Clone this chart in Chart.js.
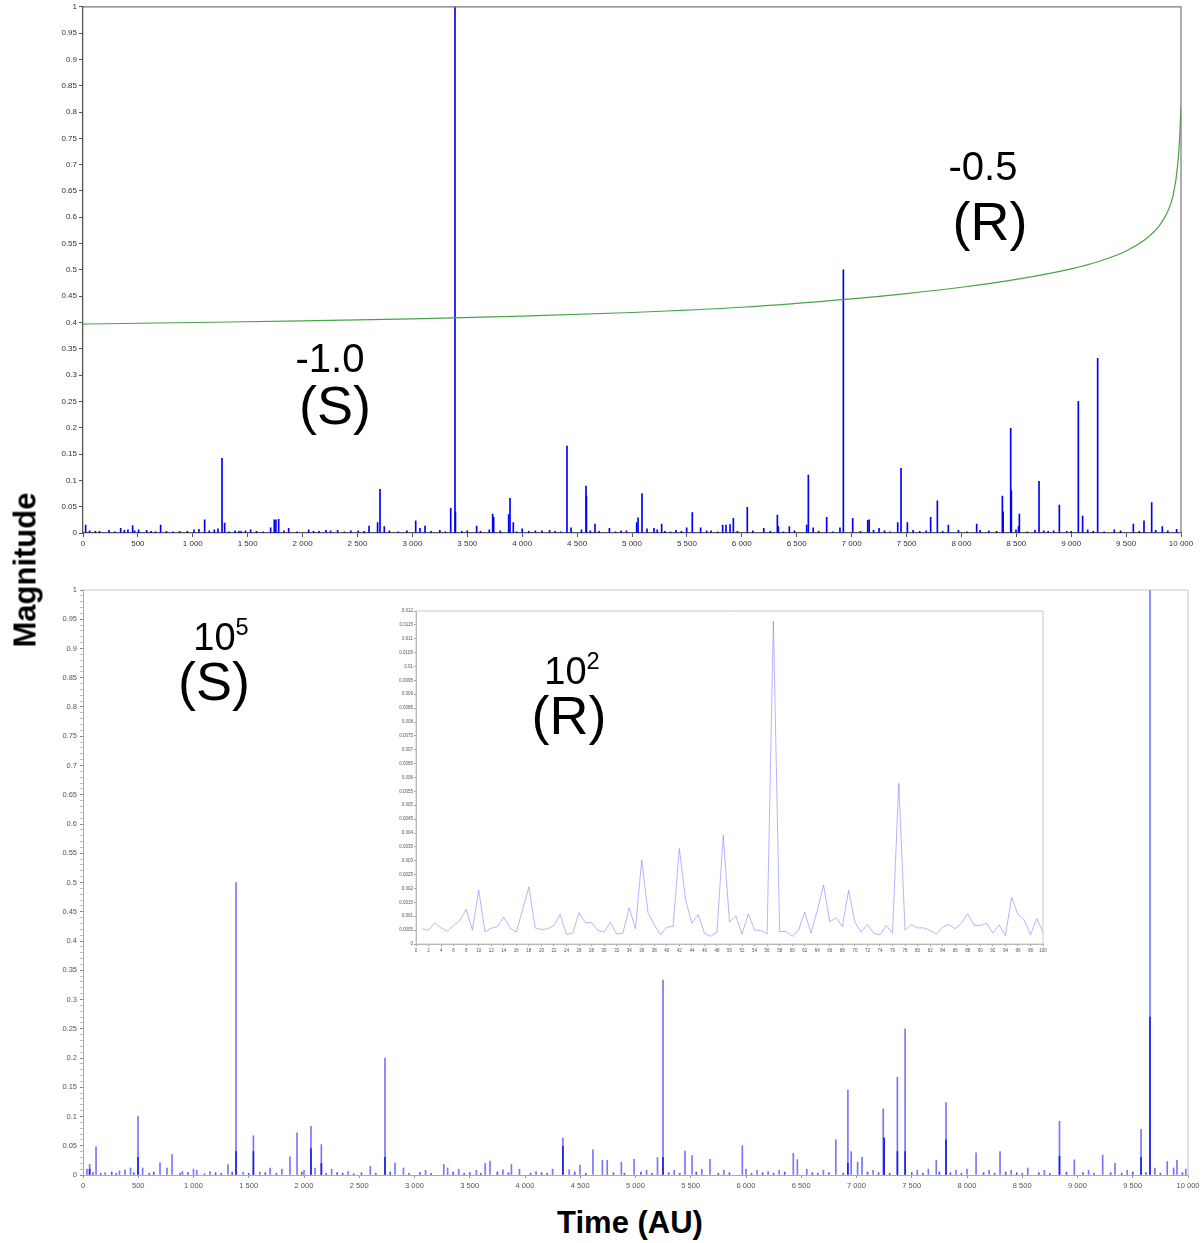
<!DOCTYPE html>
<html><head><meta charset="utf-8">
<script src="https://cdn.jsdelivr.net/npm/chart.js@4"></script>
<style>
html,body{margin:0;padding:0;background:#fff;}
body{width:1203px;height:1243px;position:relative;overflow:hidden;font-family:"Liberation Sans",Arial,sans-serif;}
.c{position:absolute;}
.t{position:absolute;color:#000;white-space:nowrap;line-height:1;transform:translateX(-50%);}
.t sup{font-size:0.62em;vertical-align:0.62em;line-height:0;}
.ax{position:absolute;font-weight:bold;font-size:31px;white-space:nowrap;line-height:1;}
</style></head><body>
<div class="c" style="left:0;top:0;width:1203px;height:560px"><canvas id="topChart" width="1203" height="560"></canvas></div>
<div class="c" style="left:0;top:570px;width:1203px;height:630px"><canvas id="bottomChart" width="1203" height="630"></canvas></div>
<div class="c" style="left:398px;top:603px;width:655px;height:357px;background:#fff"><canvas id="insetChart" width="655" height="357"></canvas></div>

<div class="t" style="left:330px;top:338px;font-size:40px">-1.0</div>
<div class="t" style="left:335px;top:378px;font-size:54px">(S)</div>
<div class="t" style="left:983px;top:146px;font-size:40px">-0.5</div>
<div class="t" style="left:990px;top:194px;font-size:54px">(R)</div>
<div class="t" style="left:221px;top:618px;font-size:38px">10<sup>5</sup></div>
<div class="t" style="left:214px;top:654px;font-size:54px">(S)</div>
<div class="t" style="left:572px;top:652px;font-size:38px">10<sup>2</sup></div>
<div class="t" style="left:569px;top:688px;font-size:54px">(R)</div>

<div class="ax" style="left:25px;top:570px;transform:translate(-50%,-50%) rotate(-90deg)">Magnitude</div>
<div class="ax" style="left:630px;top:1222px;transform:translate(-50%,-50%)">Time (AU)</div>

<script>
// ---------- DATA ----------
const topSpikeTimes = [24,112,237,343,377,409,452,507,580,707,880,1011,1056,1108,1196,1229,1266,1290,1384,1440,1527,1709,1742,1757,1782,1873,2055,2213,2255,2319,2507,2605,2683,2705,2744,2790,3030,3069,3115,3250,3349,3388,3392,3585,3700,3731,3740,3877,3889,3919,4000,4120,4250,4408,4445,4540,4581,4585,4663,4794,4950,5043,5055,5091,5137,5200,5230,5270,5400,5498,5549,5625,5720,5826,5856,5893,5923,6050,6200,6324,6333,6433,6591,6606,6650,6773,6894,6925,7010,7147,7160,7200,7250,7420,7450,7508,7560,7720,7781,7881,7973,8139,8170,8373,8380,8449,8455,8497,8520,8528,8670,8707,8790,8840,8892,8960,9065,9104,9150,9241,9392,9566,9663,9733,9770,9830,9960];
const topSpikeMags  = [0.015,0.003,0.005,0.009,0.005,0.006,0.014,0.006,0.005,0.015,0.003,0.006,0.007,0.025,0.006,0.008,0.142,0.019,0.004,0.003,0.006,0.010,0.025,0.025,0.026,0.009,0.006,0.005,0.004,0.005,0.004,0.013,0.020,0.083,0.012,0.004,0.023,0.009,0.013,0.005,0.047,1.0,0.040,0.013,0.006,0.036,0.030,0.035,0.066,0.020,0.008,0.004,0.005,0.165,0.010,0.006,0.089,0.070,0.017,0.009,0.004,0.020,0.029,0.075,0.008,0.009,0.006,0.017,0.005,0.010,0.039,0.010,0.004,0.015,0.015,0.016,0.028,0.049,0.009,0.034,0.012,0.012,0.015,0.110,0.010,0.030,0.010,0.500,0.028,0.024,0.025,0.005,0.009,0.020,0.123,0.020,0.005,0.030,0.061,0.015,0.005,0.017,0.005,0.070,0.040,0.199,0.080,0.006,0.012,0.036,0.005,0.098,0.003,0.004,0.053,0.003,0.250,0.032,0.006,0.332,0.006,0.017,0.023,0.058,0.005,0.012,0.007];
// small background fluctuations along the baseline of the top panel
const topNoiseTimes = [60,150,290,470,620,660,760,820,950,1150,1330,1420,1480,1580,1640,1830,1950,2100,2150,2380,2440,2560,2870,2950,3170,3300,3450,3500,3620,3800,3950,4060,4180,4300,4350,4620,4700,4850,4900,5300,5350,5450,5680,5780,5960,6100,6260,6380,6480,6700,6830,7080,7300,7350,7620,7680,7830,8050,8250,8320,8600,8750,9000,9200,9300,9450,9620,9880];
const topNoiseMags  = [0.004,0.003,0.002,0.004,0.003,0.002,0.003,0.002,0.003,0.004,0.002,0.003,0.004,0.003,0.002,0.004,0.002,0.003,0.003,0.002,0.004,0.003,0.002,0.004,0.003,0.002,0.003,0.004,0.003,0.004,0.002,0.003,0.004,0.003,0.002,0.004,0.003,0.002,0.004,0.003,0.002,0.003,0.004,0.002,0.003,0.004,0.003,0.002,0.004,0.003,0.002,0.003,0.004,0.002,0.003,0.004,0.003,0.002,0.004,0.003,0.002,0.004,0.003,0.003,0.002,0.004,0.003,0.004];

const curveTimes = [0,1000,2000,3000,4000,5000,6000,7000,7500,8000,8500,9000,9250,9500,9700,9800,9870,9930,9970,9990,10000];
const curveMags  = [0.397,0.400,0.403,0.407,0.412,0.419,0.429,0.445,0.455,0.467,0.482,0.502,0.516,0.536,0.562,0.583,0.607,0.643,0.700,0.760,0.810];

const bottomSpikeTimes = [36,60,118,200,330,380,430,498,540,697,760,806,900,1000,1030,1150,1312,1385,1450,1542,1600,1693,1800,1873,1937,2000,2063,2100,2157,2250,2400,2600,2733,2824,2900,3100,3265,3300,3400,3560,3640,3683,3800,3877,3950,4100,4250,4343,4400,4497,4615,4700,4744,4872,4987,5100,5199,5249,5350,5448,5512,5600,5674,5800,5967,6000,6100,6200,6300,6428,6465,6550,6700,6813,6922,6952,7010,7050,7150,7242,7250,7370,7440,7550,7650,7722,7810,7900,8000,8082,8200,8299,8400,8550,8700,8837,8971,9100,9228,9340,9450,9575,9656,9700,9812,9870,9900,9980];
const bottomSpikeMags  = [0.010,0.018,0.048,0.004,0.007,0.009,0.012,0.100,0.012,0.021,0.012,0.035,0.006,0.010,0.008,0.006,0.018,0.500,0.005,0.067,0.005,0.012,0.010,0.031,0.072,0.008,0.083,0.012,0.052,0.010,0.006,0.015,0.200,0.021,0.012,0.008,0.018,0.012,0.010,0.008,0.020,0.024,0.009,0.018,0.010,0.006,0.010,0.063,0.009,0.017,0.043,0.025,0.025,0.022,0.027,0.008,0.030,0.333,0.008,0.041,0.033,0.010,0.027,0.008,0.050,0.010,0.008,0.006,0.008,0.037,0.026,0.010,0.008,0.060,0.145,0.040,0.022,0.030,0.008,0.113,0.063,0.167,0.250,0.008,0.010,0.025,0.124,0.008,0.010,0.038,0.008,0.040,0.008,0.012,0.008,0.092,0.026,0.008,0.034,0.020,0.008,0.078,1.000,0.012,0.023,0.012,0.025,0.010];
// denser (darker) lower parts of some spikes in the bottom panel
const bottomDarkTimes = [60,498,1385,1542,2063,2157,2733,4343,5249,6922,7250,7370,7440,7810,8837,9575,9656];
const bottomDarkMags  = [0.010,0.030,0.040,0.040,0.045,0.020,0.030,0.049,0.030,0.020,0.063,0.040,0.040,0.060,0.032,0.030,0.270];
const bottomNoiseTimes = [90,160,260,300,460,600,640,880,950,1100,1200,1250,1350,1500,1650,1750,1980,2200,2300,2350,2450,2520,2650,2780,2950,3050,3150,3350,3450,3500,3600,3750,3850,4050,4150,4200,4450,4550,4800,4900,5050,5150,5300,5400,5550,5750,5850,6050,6150,6250,6350,6600,6650,6750,6880,7100,7200,7300,7500,7600,7750,7850,7950,8150,8250,8350,8450,8500,8650,8750,8900,9050,9150,9300,9400,9500,9620,9750,9950];
const bottomNoiseMags  = [0.004,0.003,0.005,0.003,0.004,0.003,0.005,0.003,0.004,0.002,0.004,0.003,0.005,0.003,0.004,0.003,0.005,0.003,0.004,0.003,0.002,0.004,0.003,0.005,0.003,0.004,0.003,0.005,0.003,0.004,0.003,0.005,0.004,0.003,0.004,0.003,0.005,0.003,0.004,0.003,0.005,0.003,0.004,0.003,0.005,0.003,0.004,0.003,0.004,0.003,0.005,0.004,0.003,0.004,0.003,0.005,0.004,0.003,0.004,0.003,0.005,0.004,0.003,0.004,0.003,0.005,0.004,0.003,0.004,0.003,0.005,0.004,0.003,0.004,0.003,0.005,0.004,0.003,0.004];

const insetTimes = [1,2,3,4,5,6,7,8,9,10,11,12,13,14,15,16,17,18,19,20,21,22,23,24,25,26,27,28,29,30,31,32,33,34,35,36,37,38,39,40,41,42,43,44,45,46,47,48,49,50,51,52,53,54,55,56,57,58,59,60,61,62,63,64,65,66,67,68,69,70,71,72,73,74,75,76,77,78,79,80,81,82,83,84,85,86,87,88,89,90,91,92,93,94,95,96,97,98,99,100];
const insetMags  = [0.00055,0.0005,0.00077,0.00058,0.00046,0.00067,0.00085,0.00125,0.0005,0.00194,0.00043,0.00057,0.00063,0.00097,0.00058,0.00043,0.00124,0.00206,0.00058,0.00052,0.00055,0.00066,0.00107,0.00034,0.0004,0.00113,0.00077,0.00077,0.00049,0.00043,0.00078,0.00036,0.00039,0.00131,0.00055,0.00304,0.00113,0.0007,0.00033,0.00061,0.00063,0.00344,0.00158,0.00075,0.00106,0.00039,0.00028,0.00043,0.00392,0.00079,0.00102,0.00036,0.00109,0.0005,0.00049,0.00036,0.01164,0.00045,0.00045,0.00028,0.00049,0.00115,0.00039,0.00121,0.00213,0.00079,0.00095,0.00063,0.00194,0.00079,0.00043,0.0007,0.00039,0.00033,0.00067,0.00039,0.00579,0.0005,0.0007,0.00058,0.00058,0.00049,0.00036,0.00061,0.0007,0.00055,0.00075,0.00109,0.00067,0.00067,0.00075,0.00039,0.00069,0.0003,0.00168,0.00107,0.00087,0.00033,0.00091,0.00043];

const timeTickStep = 500, magTickStep = 0.05, insetTimeStep = 2, insetMagStep = 0.0005;

// ---------- HELPERS ----------
const FAMILY = '"Liberation Sans", Arial, sans-serif';
const pts = (xs, ys) => xs.map((x, i) => ({x, y: ys[i]}));
const thousands = v => String(Math.round(v)).replace(/\B(?=(\d{3})+(?!\d))/g, ' ');
const trimNum = (v, d) => String(parseFloat(v.toFixed(d)));

const framePlugin = {
  id: 'frame',
  afterDraw(chart, args, o) {
    const {ctx, chartArea: a} = chart;
    ctx.save();
    ctx.strokeStyle = o.color; ctx.lineWidth = o.width;
    ctx.beginPath();
    if (o.full) { ctx.rect(a.left, a.top, a.right - a.left, a.bottom - a.top); }
    else { ctx.moveTo(a.left, a.top); ctx.lineTo(a.right, a.top); ctx.lineTo(a.right, a.bottom); }
    ctx.stroke();
    ctx.restore();
  }
};
Chart.register(framePlugin);

const common = {
  responsive: false, animation: false, events: [],
  plugins: {legend: {display: false}, tooltip: {enabled: false}}
};
const spikes = (xs, ys, color, order) => ({type: 'bar', data: pts(xs, ys), backgroundColor: color,
  barThickness: 1, grouped: false, order});

// ---------- TOP CHART ----------
new Chart(document.getElementById('topChart'), {
  type: 'bar',
  data: {datasets: [
    {type: 'line', data: pts(curveTimes, curveMags), borderColor: 'rgb(70,165,70)', borderWidth: 1.2,
     pointRadius: 0, cubicInterpolationMode: 'monotone', order: 1},
    spikes(topSpikeTimes, topSpikeMags, '#0000ff', 2),
    spikes(topNoiseTimes, topNoiseMags, '#0000cc', 3)
  ]},
  options: {
    ...common,
    layout: {padding: {left: 0, top: 5, right: 22, bottom: 0}},
    plugins: {...common.plugins, frame: {color: '#777', width: 1.2}},
    scales: {
      x: {type: 'linear', min: 0, max: 10000, offset: false,
          grid: {offset: false, drawOnChartArea: false, tickLength: 4, color: '#555', tickWidth: 1},
          border: {color: '#555', width: 1.3},
          ticks: {stepSize: timeTickStep, autoSkip: false, maxRotation: 0, padding: 2,
                  font: {size: 8, family: FAMILY}, color: '#333', callback: v => thousands(v)},
          afterFit: s => { s.height = 27; }},
      y: {type: 'linear', min: 0, max: 1,
          grid: {drawOnChartArea: false, tickLength: 4, color: '#555'},
          border: {color: '#555', width: 1.3},
          ticks: {stepSize: magTickStep, autoSkip: false, padding: 2,
                  font: {size: 8, family: FAMILY}, color: '#333', callback: v => trimNum(v, 2)},
          afterFit: s => { s.width = 83; }}
    }
  }
});

// ---------- BOTTOM CHART ----------
new Chart(document.getElementById('bottomChart'), {
  type: 'bar',
  data: {datasets: [
    spikes(bottomDarkTimes, bottomDarkMags, 'rgba(20,20,230,0.9)', 1),
    spikes(bottomSpikeTimes, bottomSpikeMags, 'rgba(60,60,255,0.7)', 2),
    spikes(bottomNoiseTimes, bottomNoiseMags, 'rgba(40,40,240,0.8)', 3)
  ]},
  options: {
    ...common,
    layout: {padding: {left: 0, top: 20, right: 15, bottom: 0}},
    plugins: {...common.plugins, frame: {color: '#c4c4c4', width: 1}},
    scales: {
      x: {type: 'linear', min: 0, max: 10000, offset: false,
          grid: {offset: false, drawOnChartArea: false, tickLength: 3, color: '#999'},
          border: {color: '#aaa', width: 1},
          ticks: {stepSize: timeTickStep, autoSkip: false, maxRotation: 0, padding: 3,
                  font: {size: 7.5, family: FAMILY}, color: '#555', callback: v => thousands(v)},
          afterFit: s => { s.height = 25; }},
      y: {type: 'linear', min: 0, max: 1,
          grid: {drawOnChartArea: false, tickLength: 3,
                 color: c => (Math.round(c.tick.value * 100) % 5 === 0 ? '#888' : '#bbb')},
          border: {color: '#aaa', width: 1},
          ticks: {stepSize: 0.01, autoSkip: false, padding: 3,
                  font: {size: 7.5, family: FAMILY}, color: '#555',
                  callback: v => (Math.round(v * 100) % 5 === 0 ? trimNum(v, 2) : '')},
          afterFit: s => { s.width = 83; }}
    }
  }
});

// ---------- INSET CHART ----------
new Chart(document.getElementById('insetChart'), {
  type: 'line',
  data: {datasets: [
    {data: pts(insetTimes, insetMags), borderColor: 'rgba(120,120,255,0.55)', borderWidth: 1,
     pointRadius: 0, tension: 0}
  ]},
  options: {
    ...common,
    layout: {padding: {left: 0, top: 8, right: 10, bottom: 0}},
    plugins: {...common.plugins, frame: {color: '#c8c8c8', width: 1, full: true}},
    scales: {
      x: {type: 'linear', min: 0, max: 100,
          grid: {drawOnChartArea: false, tickLength: 2, color: '#999'},
          border: {color: '#aaa', width: 1},
          ticks: {stepSize: insetTimeStep, autoSkip: false, maxRotation: 0, padding: 2,
                  font: {size: 4.5, family: FAMILY}, color: '#555', callback: v => String(Math.round(v))},
          afterFit: s => { s.height = 16; }},
      y: {type: 'linear', min: 0, max: 0.012,
          grid: {drawOnChartArea: false, tickLength: 2, color: '#999'},
          border: {color: '#aaa', width: 1},
          ticks: {stepSize: insetMagStep, autoSkip: false, padding: 1,
                  font: {size: 4.5, family: FAMILY}, color: '#555', callback: v => trimNum(v, 4)},
          afterFit: s => { s.width = 18; }}
    }
  }
});
</script>
</body></html>
